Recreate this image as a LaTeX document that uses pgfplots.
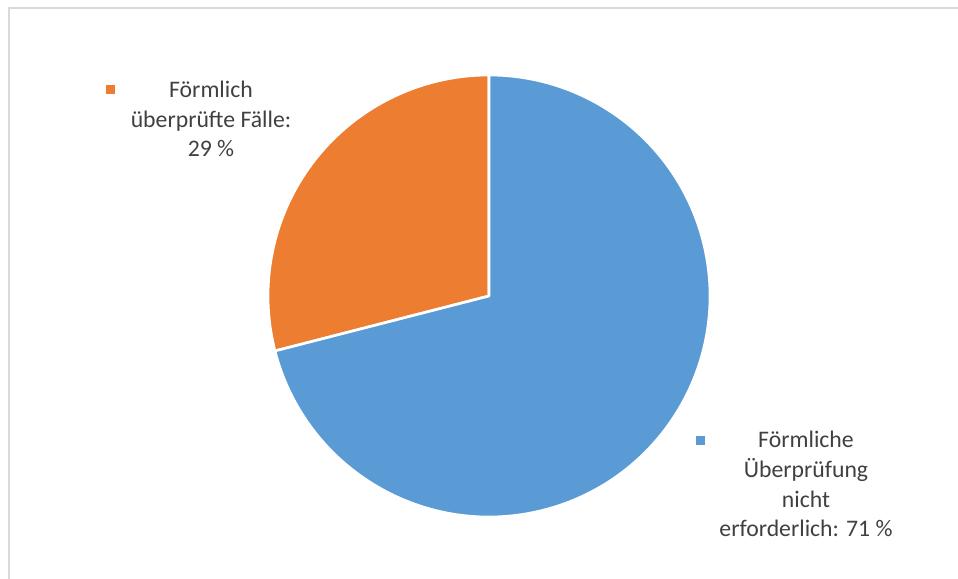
\documentclass[border=0pt]{standalone}
\usepackage{pgfplots}
\usepackage{pgfplotstable}
\pgfplotsset{compat=1.18}
\usepackage{fontspec}
\setmainfont{Carlito}
\definecolor{pieblue}{HTML}{5B9BD5}
\definecolor{pieorange}{HTML}{ED7D31}
\definecolor{txt}{HTML}{404040}
\definecolor{frame}{HTML}{D9D9D9}
\pgfplotstableread{
share color
29 pieorange
71 pieblue
}\piedata
\begin{document}
\begin{tikzpicture}
\pgfplotstablegetelem{0}{share}\of\piedata \edef\sA{\pgfplotsretval}
\pgfplotstablegetelem{1}{share}\of\piedata \edef\sB{\pgfplotsretval}
\pgfmathsetmacro\aStart{90}
\pgfmathsetmacro\aMid{90+\sA*3.6}
\pgfmathsetmacro\aEnd{90+(\sA+\sB)*3.6}
\begin{axis}[
  width=718.5pt, height=434.25pt, scale only axis,
  xmin=0, xmax=958, ymin=0, ymax=579,
  hide axis, clip=false,
]
\coordinate (bbsw) at (axis cs:0,0);
\coordinate (bbne) at (axis cs:958,579);
% frame (top and left edges visible)
\draw[frame, line width=1.5pt] (axis cs:9,0) -- (axis cs:9,571) -- (axis cs:958,571);
% pie slices
\def\R{165.75pt}
\filldraw[fill=pieorange, draw=white, line width=2pt, line join=round]
  (axis cs:489,283) -- ++(\aStart:\R) arc[start angle=\aStart, end angle=\aMid, radius=\R] -- cycle;
\filldraw[fill=pieblue, draw=white, line width=2pt, line join=round]
  (axis cs:489,283) -- ++(\aMid:\R) arc[start angle=\aMid, end angle=\aEnd, radius=\R] -- cycle;
% labels
\tikzset{lbl/.style={anchor=base, text=txt, font=\fontsize{17.8}{22.5}\selectfont, inner sep=0pt}}
\fill[pieorange] (axis cs:106,494) rectangle (axis cs:115,485);
\node[lbl] at (axis cs:211,481) {Förmlich};
\node[lbl] at (axis cs:211,451) {überprüfte Fälle:};
\node[lbl] at (axis cs:211,422) {\sA\ \%};
\fill[pieblue] (axis cs:696,143) rectangle (axis cs:705,134);
\node[lbl] at (axis cs:806,131) {Förmliche};
\node[lbl] at (axis cs:806,101) {Überprüfung};
\node[lbl] at (axis cs:806,71) {nicht};
\node[lbl] at (axis cs:806,42) {erforderlich: \sB\ \%};
\end{axis}
\pgfresetboundingbox
\useasboundingbox (bbsw) rectangle (bbne);
\end{tikzpicture}
\end{document}
